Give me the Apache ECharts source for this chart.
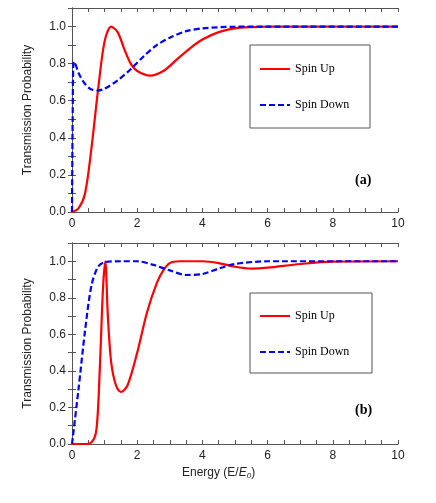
<!DOCTYPE html>
<html><head><meta charset="utf-8">
<script src="https://cdn.jsdelivr.net/npm/echarts@6/dist/echarts.min.js"></script>
<style>html,body{margin:0;background:#fff}#c{width:436px;height:503px}</style>
</head><body><div id="c"></div>
<script>
// panel (a)
const upA = [[0,0],[0.2,0.02],[0.4,0.1],[0.6,0.35],[0.8,0.66],[1.0,0.92],[1.2,1.0],[1.4,0.97],[1.6,0.88],[1.8,0.8],[2.0,0.76],[2.4,0.735],[2.8,0.76],[3.2,0.82],[3.6,0.88],[4,0.93],[4.5,0.97],[5,0.99],[5.5,0.997],[6,1],[10,1]];
const downA = [[0,0],[0.02,0.5],[0.05,0.81],[0.1,0.8],[0.2,0.75],[0.4,0.69],[0.6,0.66],[0.8,0.655],[1,0.665],[1.4,0.71],[1.8,0.77],[2.2,0.84],[2.6,0.9],[3,0.94],[3.5,0.975],[4,0.99],[5,0.999],[6,1],[10,1]];
// panel (b)
const upB = [[0,0],[0.3,0],[0.6,0.01],[0.75,0.08],[0.85,0.4],[0.95,0.85],[1.02,1.0],[1.1,0.7],[1.2,0.45],[1.35,0.32],[1.5,0.285],[1.7,0.32],[2.0,0.5],[2.3,0.72],[2.6,0.88],[2.8,0.95],[3.0,0.99],[3.3,1.0],[4,1.0],[4.5,0.99],[5,0.97],[5.5,0.96],[6,0.965],[7,0.985],[8,0.998],[10,1]];
const downB = [[0,0],[0.2,0.3],[0.4,0.62],[0.6,0.87],[0.8,0.97],[1.0,0.995],[1.5,1.0],[2,1.0],[2.5,0.98],[3,0.95],[3.5,0.925],[4,0.93],[4.5,0.96],[5,0.985],[6,1.0],[10,1]];

const chart = echarts.init(document.getElementById('c'));
const axColor = '#555';
function xAx(i, labels, pos) {
  return {type:'value', gridIndex:i, min:0, max:10, interval:0.5, position:pos,
    axisLine:{onZero:false, lineStyle:{color:axColor}},
    axisTick:{show:true, inside:true, length:4, lineStyle:{color:axColor}},
    axisLabel:{show:labels, color:'#222', fontSize:12, fontFamily:'Liberation Sans', margin:6,
      formatter:v => (Math.abs(v % 2) < 1e-6) ? String(v) : ''},
    splitLine:{show:false}};
}
function yAx(i, labels, pos) {
  return {type:'value', gridIndex:i, min:0, max:1.1, interval:0.1, position:pos,
    name: labels ? 'Transmission Probability' : '', nameLocation:'middle', nameGap:38,
    nameTextStyle:{color:'#222', fontSize:12, fontFamily:'Liberation Sans'},
    axisLine:{lineStyle:{color:axColor}},
    axisTick:{show:true, inside:true, length:4, lineStyle:{color:axColor}},
    axisLabel:{show:labels, color:'#222', fontSize:12, fontFamily:'Liberation Sans', margin:6,
      formatter:v => { const k = Math.round(v * 10); return (k % 2 === 0 && k <= 10) ? (k / 10).toFixed(1) : ''; }},
    splitLine:{show:false}};
}
function ser(name, data, xi, yi, color, dashed) {
  return {name, type:'line', data, xAxisIndex:xi, yAxisIndex:yi, smooth:0.3,
    symbol:'none', lineStyle:{color, width:2.2, type: dashed ? [6,3] : 'solid'}, itemStyle:{color}};
}
const legText = {fontFamily:'Liberation Serif', fontSize:12, color:'#000'};
const legBase = {orient:'vertical', itemGap:24, itemWidth:30, itemHeight:10, textStyle:legText, itemStyle:{opacity:0}};
chart.setOption({
  backgroundColor:'#fff',
  animation:false,
  grid:[{left:72, right:38, top:8, height:204}, {left:72, right:38, top:243, height:201}],
  xAxis:[xAx(0,true,'bottom'), xAx(0,false,'top'), xAx(1,true,'bottom'), xAx(1,false,'top')],
  yAxis:[yAx(0,true,'left'), yAx(0,false,'right'), yAx(1,true,'left'), yAx(1,false,'right')],
  legend:[
    Object.assign({data:['Spin Up','Spin Down'], left:254, top:58}, legBase),
    Object.assign({data:['Spin Up ','Spin Down '], left:254, top:305}, legBase)
  ],
  series:[
    ser('Spin Up', upA, 0, 0, '#f00', false),
    ser('Spin Down', downA, 0, 0, '#00f', true),
    ser('Spin Up ', upB, 2, 2, '#f00', false),
    ser('Spin Down ', downB, 2, 2, '#00f', true)
  ],
  graphic:[
    {type:'rect', shape:{x:250, y:45, width:120, height:83}, style:{fill:'none', stroke:'#555', lineWidth:1}},
    {type:'rect', shape:{x:250, y:293, width:122, height:80}, style:{fill:'none', stroke:'#555', lineWidth:1}},
    {type:'text', left:355, top:173, style:{text:'(a)', font:'bold 14px "Liberation Serif"', fill:'#000'}},
    {type:'text', left:355, top:403, style:{text:'(b)', font:'bold 14px "Liberation Serif"', fill:'#000'}},
    {type:'text', left:182, top:467, style:{text:'{n|Energy (E/}{i|E}{s|0}{n|)}', rich:{
      n:{fontSize:12, fontFamily:'Liberation Sans', fill:'#222'},
      i:{fontSize:12, fontFamily:'Liberation Sans', fontStyle:'italic', fill:'#222'},
      s:{fontSize:8, fontFamily:'Liberation Sans', fontStyle:'italic', fill:'#222', verticalAlign:'bottom', padding:[6,0,0,0]}}}}
  ]
});
</script></body></html>
